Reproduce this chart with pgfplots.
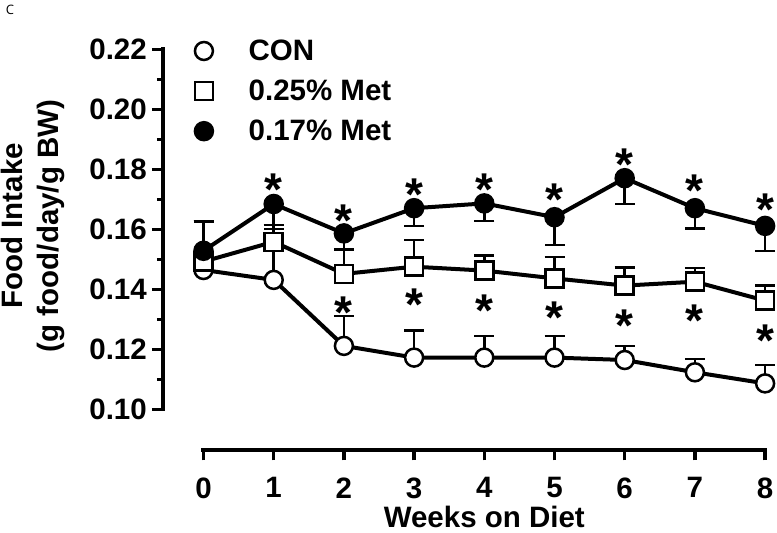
\documentclass[border=0pt]{standalone}
\usepackage{fontspec}
\setmainfont{Liberation Sans}
\newfontfamily\capfont{Open Sans}
\usepackage{pgfplots}
\pgfplotsset{compat=1.18}

\newcommand\lab{\bfseries\fontsize{29.5}{36}\selectfont}
\newcommand\starfont{\bfseries\fontsize{46}{46}\selectfont}

\pgfplotsset{
  ser/.style={black, line width=4pt, mark size=9pt,
    error bars/y explicit,
    error bars/error bar style={line width=2.5pt, black},
    error bars/error mark options={rotate=90, line width=2.5pt, mark size=10pt, black}},
  stars/.style={forget plot, only marks, mark=none,
    nodes near coords={*},
    every node near coord/.style={font=\starfont, anchor=base, inner sep=0pt, yshift=-27pt}},
}

\begin{document}
\begin{tikzpicture}
\useasboundingbox (-163pt,-123.5pt) rectangle (614pt,409.5pt);
\node[font=\capfont\fontsize{13}{14}\selectfont] at (-153pt,400pt) {C};

\begin{axis}[
  scale only axis, width=602.1pt, height=360pt,
  xmin=-0.577, xmax=8, ymin=0.10, ymax=0.22,
  axis x line=none, axis y line=left,
  axis line style={line width=4pt, line cap=rect, -},
  y axis line style={-},
  ytick={0.10,0.12,0.14,0.16,0.18,0.20,0.22}, minor y tick num=1,
  tick align=outside, major tick length=11pt, minor tick length=6pt,
  tick style={black, line width=3.5pt},
  yticklabel style={font=\lab, inner sep=0pt, xshift=-5pt,
    /pgf/number format/.cd, fixed, fixed zerofill, precision=2, assume math mode=true},
  ylabel={Food Intake\\(g food/day/g BW)},
  ylabel style={font=\lab, align=center, at={(axis description cs:-0.2167,0.51)}, anchor=center},
  clip=false,
  legend style={at={(axis description cs:0.0527,1.0271)}, anchor=north west,
    draw=none, fill=none, inner sep=0pt, row sep=18pt, column sep=35.75pt,
    font=\lab, nodes={inner sep=0pt}},
  legend cell align=left,
  legend image code/.code={\draw[only marks] plot coordinates {(0pt,0pt)};},
]
\addplot[ser, mark=*, mark options={fill=white, line width=2.5pt}, error bars/y dir=plus]
  table[x=w, y=v, y error=e] {
w v e
0 0.1465 0.0161
1 0.1432 0.0100
2 0.1212 0.0100
3 0.1173 0.0090
4 0.1173 0.0072
5 0.1173 0.0072
6 0.1165 0.0047
7 0.1124 0.0044
8 0.1087 0.0061
};
\addlegendentry{CON}
\addplot[ser, mark=square*, mark options={fill=white, line width=2.5pt}, error bars/y dir=plus]
  table[x=w, y=v, y error=e] {
w v e
0 0.1493 0.0133
1 0.1559 0.0056
2 0.1452 0.0082
3 0.1476 0.0089
4 0.1463 0.0050
5 0.1437 0.0072
6 0.1413 0.0061
7 0.1426 0.0045
8 0.1363 0.0050
};
\addlegendentry{0.25\% Met}
\addplot[ser, mark=*, mark options={fill=black, line width=2.5pt}, error bars/y dir=minus]
  table[x=w, y=v, y error=e] {
w v e
0 0.1529 0.0040
1 0.1685 0.0084
2 0.1587 0.0053
3 0.1671 0.0059
4 0.1687 0.0059
5 0.1641 0.0093
6 0.1771 0.0086
7 0.1671 0.0067
8 0.1612 0.0084
};
\addlegendentry{0.17\% Met}
% significance marks, 0.17% Met (above) and 0.25% Met (below)
\addplot[stars] coordinates {
  (1,0.1771) (2,0.1665) (3,0.1754) (4,0.1771)
  (5,0.1737) (6,0.1854) (7,0.1765) (8,0.1704)
};
\addplot[stars] coordinates {
  (2,0.1359) (3,0.1385) (4,0.1365) (5,0.1343)
  (6,0.1318) (7,0.1332) (8,0.1265)
};
\end{axis}

\begin{axis}[
  at={(40.5pt,-40.5pt)}, anchor=south west,
  scale only axis, width=561.6pt, height=1pt,
  xmin=0, xmax=8, ymin=0, ymax=1,
  axis y line=none, axis x line=bottom,
  axis line style={line width=4pt, line cap=rect, -},
  x axis line style={-},
  xtick={0,1,...,8}, tick align=outside, major tick length=10.5pt,
  tick style={black, line width=3.5pt},
  xticklabel style={font=\lab, inner sep=0pt, yshift=-17pt,
    /pgf/number format/assume math mode=true},
  xlabel={Weeks on Diet},
  xlabel style={font=\lab, inner sep=0pt, at={(axis description cs:0.5,0)}, anchor=center, yshift=-67pt},
]
\addplot[draw=none] coordinates {(0,0.5)};
\end{axis}
\end{tikzpicture}
\end{document}
